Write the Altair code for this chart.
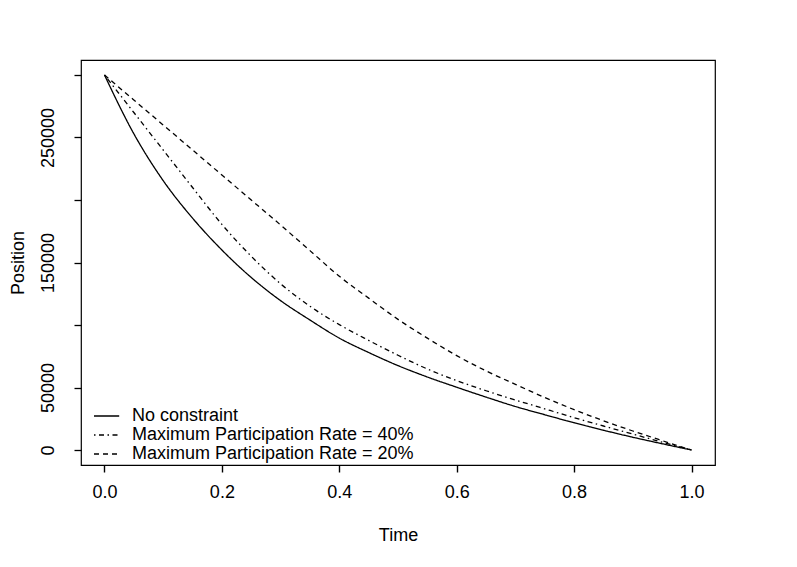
import altair as alt
import pandas as pd

# ---- data ----
times = [0.0, 0.05, 0.1, 0.15, 0.2, 0.25, 0.3, 0.35, 0.4, 0.45, 0.5,
         0.55, 0.6, 0.65, 0.7, 0.75, 0.8, 0.85, 0.9, 0.95, 1.0]

no_constraint = [300000, 253000, 215500, 185500, 160000, 138000, 119500, 104000,
                 89500, 78000, 67500, 58400, 50200, 42300, 34800, 28200, 21800,
                 15800, 10200, 5000, 0]

rate_40 = [300000, 270000, 240000, 210000, 180500, 155000, 133000, 115000,
           100300, 87700, 75800, 64800, 55500, 47400, 40000, 32900, 25900,
           19200, 12700, 6300, 0]

rate_20 = [300000, 280000, 260000, 240000, 220000, 200000, 180000, 159500,
           139000, 121500, 104500, 89500, 75500, 63300, 52500, 42000, 32300,
           23400, 15200, 7500, 0]

series_names = ["No constraint",
                "Maximum Participation Rate = 40%",
                "Maximum Participation Rate = 20%"]

x_ticks = [0.0, 0.2, 0.4, 0.6, 0.8, 1.0]
y_ticks = [0, 50000, 100000, 150000, 200000, 250000, 300000]
y_labelled = [0, 50000, 150000, 250000]

rows = []
for name, vals in zip(series_names, [no_constraint, rate_40, rate_20]):
    for t, v in zip(times, vals):
        rows.append({"Time": t, "Position": v, "series": name})
df = pd.DataFrame(rows)

FONT = "Liberation Sans"
FS = 18
W, H = 634, 405

label_expr = "indexof([" + ",".join(str(v) for v in y_labelled) + "], datum.value) >= 0 ? datum.label : ''"

chart = alt.Chart(df).mark_line(strokeWidth=1.3, color="black", interpolate="monotone").encode(
    x=alt.X("Time:Q",
            scale=alt.Scale(domain=[-0.04, 1.04], nice=False, zero=False),
            axis=alt.Axis(values=x_ticks, format=".1f", title="Time", grid=False, domain=False,
                          ticks=True, tickSize=7, tickColor="#000000", tickWidth=1.4,
                          tickOpacity=1, zindex=1,
                          labelFontSize=FS, labelFont=FONT, labelColor="black", labelPadding=11,
                          labelFlush=False, labelOverlap=False,
                          titleFontSize=FS, titleFont=FONT, titleFontWeight="normal",
                          titleColor="black", titleBaseline="alphabetic", titleY=75)),
    y=alt.Y("Position:Q",
            scale=alt.Scale(domain=[-12000, 312000], nice=False, zero=False),
            axis=alt.Axis(values=y_ticks, format="d", labelExpr=label_expr, title="Position",
                          grid=False, domain=False, ticks=True, tickSize=7, tickColor="#000000",
                          tickWidth=1.3, tickOpacity=1, zindex=1,
                          labelAngle=270, labelFontSize=FS, labelFont=FONT, labelColor="black",
                          labelPadding=17, labelFlush=False, labelOverlap=False,
                          titleFontSize=FS, titleFont=FONT, titleFontWeight="normal",
                          titleColor="black", titleAngle=270, titleBaseline="alphabetic",
                          titleAlign="center", titleX=-58, titleY=202.5)),
    strokeDash=alt.StrokeDash("series:N",
                              scale=alt.Scale(domain=series_names,
                                              range=[[1, 0], [1.5, 3.5, 5, 3.5], [5, 4]]),
                              legend=alt.Legend(title=None, orient="none", legendX=15.6, legendY=346,
                                                symbolType="M-1.4,0H1.4", symbolSize=324,
                                                symbolStrokeWidth=1.3, symbolStrokeColor="black",
                                                symbolFillColor="transparent",
                                                labelFontSize=FS, labelFont=FONT, labelColor="black",
                                                labelOffset=15.4, labelLimit=0, rowPadding=0,
                                                padding=0, direction="vertical")),
    order=alt.Order("Time:Q"),
).properties(
    width=W,
    height=H,
    autosize=alt.AutoSizeParams(type="none"),
    padding={"left": 73, "top": 52, "right": 60, "bottom": 98},
    view=alt.ViewBackground(stroke="#000000", strokeWidth=1.2),
).configure(background="white")

chart.save("out.html", embed_options={"renderer": "svg", "actions": False})
